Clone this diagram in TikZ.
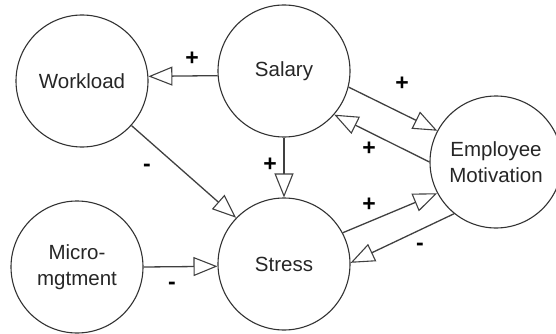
\documentclass[tikz,border=0pt]{standalone}
\usepackage{fontspec}
\setmainfont{Liberation Sans}
\usetikzlibrary{arrows.meta}
\begin{document}
\begin{tikzpicture}[x=1pt,y=-1pt,
  var/.style={circle,draw=black!80,line width=1.1pt,minimum size=132pt,inner sep=0pt,
    align=center,font=\fontsize{20.5}{25.5}\selectfont,text=black!85},
  link/.style={draw=black!75,line width=1.3pt,
    -{Triangle[open,length=24pt,width=19pt,line width=1.1pt]}},
  sign/.style={font=\bfseries\fontsize{23}{23}\selectfont,text=black,inner sep=0pt}]
\useasboundingbox (0,0) rectangle (556,334);

\node[var] (work) at (82,81)   {Workload};
\node[var] (sal)  at (284,71)  {Salary};
\node[var] (mic)  at (77,267)  {Micro-\\mgtment};
\node[var] (str)  at (284,264) {Stress};
\node[var] (emp)  at (496,162) {Employee\\Motivation};

\draw[link] (sal.184) -- (work.4);
\draw[link] (sal.270) -- (str.90);
\draw[link] (work.-42.6) -- (str.136.8);
\draw[link] (mic.0) -- (str.182);
\draw[link] (sal.-14.9) -- (emp.152.6);
\draw[link] (emp.180) -- (sal.-41.2);
\draw[link] (str.28.5) -- (emp.208.1);
\draw[link] (emp.231.2) -- (str.1.7);

\node[sign] (s1) at (192,59)  {+};
\node[sign] (s2) at (270,165) {+};
\node[sign] (s3) at (147,168) {-};
\node[sign] (s4) at (172,286) {-};
\node[sign] (s5) at (402,84)  {+};
\node[sign] (s6) at (369,149) {+};
\node[sign] (s7) at (369,205) {+};
\node[sign] (s8) at (420,247) {-};
\end{tikzpicture}
\end{document}
